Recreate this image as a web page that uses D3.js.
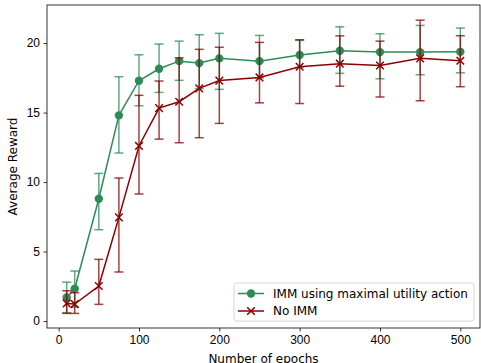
<!DOCTYPE html>
<html>
<head>
<meta charset="utf-8">
<script src="https://cdn.jsdelivr.net/npm/d3@7"></script>
<style>
body { margin: 0; background: #fff; }
svg { display: block; font-family: "DejaVu Sans", sans-serif; }
</style>
</head>
<body>
<svg id="chart" width="481" height="363"></svg>
<script>
// epochs
var epochs = [10, 20, 50, 75, 100, 125, 150, 175, 200, 250, 300, 350, 400, 450, 500];

// IMM using maximal utility action
var immMean = [1.7, 2.32, 8.8, 14.8, 17.29, 18.15, 18.7, 18.56, 18.9, 18.7, 19.14, 19.45, 19.35, 19.35, 19.37];
var immLow  = [0.6, 1.0, 6.57, 12.09, 15.49, 16.45, 17.32, 16.72, 16.67, 17.5, 18.25, 17.82, 17.43, 17.72, 17.86];
var immHigh = [2.8, 3.6, 10.62, 17.58, 19.16, 19.93, 20.14, 20.6, 20.7, 20.55, 20.2, 21.17, 20.67, 21.27, 21.08];

// No IMM
var noMean = [1.27, 1.22, 2.52, 7.46, 12.6, 15.32, 15.78, 16.74, 17.3, 17.53, 18.3, 18.52, 18.39, 18.9, 18.73];
var noLow  = [0.55, 0.55, 1.2, 3.53, 9.14, 13.09, 12.83, 13.19, 14.22, 15.7, 15.65, 16.9, 16.12, 15.85, 16.86];
var noHigh = [2.18, 2.04, 4.44, 10.29, 16.24, 17.27, 18.94, 19.55, 19.7, 20.05, 20.24, 20.52, 20.14, 21.65, 20.53];

var xTicks = [0, 100, 200, 300, 400, 500];
var yTicks = [0, 5, 10, 15, 20];

var green = "#2e8b57", red = "#8b0000";
var fontSize = "12px";

var svg = d3.select("#chart");
var plotL = 47, plotR = 480, plotT = 5, plotB = 328;

var x = d3.scaleLinear().domain([-14.5, 524.5]).range([plotL, plotR]);
var y = d3.scaleLinear().domain([-0.5, 22.74]).range([plotB, plotT]);

// axes
svg.append("g")
	.attr("transform", "translate(0," + plotB + ")")
	.call(d3.axisBottom(x).tickValues(xTicks).tickSize(3.5).tickPadding(3.5))
	.call(function(g) { g.select(".domain").remove(); })
	.selectAll("text").style("font-size", fontSize).attr("fill", "#000");

svg.append("g")
	.attr("transform", "translate(" + plotL + ",0)")
	.call(d3.axisLeft(y).tickValues(yTicks).tickSize(3.5).tickPadding(3.5))
	.call(function(g) { g.select(".domain").remove(); })
	.selectAll("text").style("font-size", fontSize).attr("fill", "#000");

svg.selectAll(".tick line").attr("stroke", "#000").attr("stroke-width", 0.8);

function series(mean, lo, hi, color, marker) {
	var g = svg.append("g");
	var pts = epochs.map(function(e, i) { return {x: e, m: mean[i], lo: lo[i], hi: hi[i]}; });

	var eb = g.selectAll("g.err").data(pts).enter().append("g")
		.attr("class", "err")
		.attr("stroke", color)
		.attr("stroke-width", 1.5)
		.attr("stroke-opacity", 0.75);
	eb.append("line")
		.attr("x1", function(d) { return x(d.x); }).attr("x2", function(d) { return x(d.x); })
		.attr("y1", function(d) { return y(d.lo); }).attr("y2", function(d) { return y(d.hi); });
	eb.append("line")
		.attr("x1", function(d) { return x(d.x) - 4.5; }).attr("x2", function(d) { return x(d.x) + 4.5; })
		.attr("y1", function(d) { return y(d.lo); }).attr("y2", function(d) { return y(d.lo); });
	eb.append("line")
		.attr("x1", function(d) { return x(d.x) - 4.5; }).attr("x2", function(d) { return x(d.x) + 4.5; })
		.attr("y1", function(d) { return y(d.hi); }).attr("y2", function(d) { return y(d.hi); });

	g.append("path")
		.datum(pts)
		.attr("fill", "none")
		.attr("stroke", color)
		.attr("stroke-width", 1.5)
		.attr("d", d3.line().x(function(d) { return x(d.x); }).y(function(d) { return y(d.m); }));

	drawMarkers(g, pts.map(function(d) { return [x(d.x), y(d.m)]; }), color, marker);
}

function drawMarkers(g, xy, color, marker) {
	if (marker == "circle") {
		g.selectAll("circle.mk").data(xy).enter().append("circle")
			.attr("class", "mk")
			.attr("cx", function(d) { return d[0]; })
			.attr("cy", function(d) { return d[1]; })
			.attr("r", 4.2)
			.attr("fill", color);
	} else {
		g.selectAll("path.mk").data(xy).enter().append("path")
			.attr("class", "mk")
			.attr("d", function(d) {
				var s = 3.8;
				return "M" + (d[0]-s) + "," + (d[1]-s) + "L" + (d[0]+s) + "," + (d[1]+s) +
					"M" + (d[0]-s) + "," + (d[1]+s) + "L" + (d[0]+s) + "," + (d[1]-s);
			})
			.attr("stroke", color)
			.attr("stroke-width", 1.5);
	}
}

series(immMean, immLow, immHigh, green, "circle");
series(noMean, noLow, noHigh, red, "x");

// frame
svg.append("rect")
	.attr("x", plotL).attr("y", plotT)
	.attr("width", plotR - plotL).attr("height", plotB - plotT)
	.attr("fill", "none").attr("stroke", "#000").attr("stroke-width", 0.8);

// labels
svg.append("text")
	.attr("x", (plotL + plotR) / 2).attr("y", 363)
	.attr("text-anchor", "middle")
	.style("font-size", fontSize)
	.text("Number of epochs");

svg.append("text")
	.attr("transform", "translate(17," + ((plotT + plotB) / 2) + ") rotate(-90)")
	.attr("text-anchor", "middle")
	.style("font-size", fontSize)
	.text("Average Reward");

// legend
var legend = svg.append("g").attr("transform", "translate(234,283)");
legend.append("rect")
	.attr("width", 240).attr("height", 38).attr("rx", 2.5)
	.attr("fill", "#fff").attr("fill-opacity", 0.8)
	.attr("stroke", "#ccc").attr("stroke-width", 0.8);

var legendItems = [
	{label: "IMM using maximal utility action", color: green, marker: "circle"},
	{label: "No IMM", color: red, marker: "x"}
];
legendItems.forEach(function(item, i) {
	var yy = 10.5 + i * 17.5;
	legend.append("line")
		.attr("x1", 4).attr("x2", 30).attr("y1", yy).attr("y2", yy)
		.attr("stroke", item.color).attr("stroke-width", 1.5);
	drawMarkers(legend, [[17, yy]], item.color, item.marker);
	legend.append("text")
		.attr("x", 39).attr("y", yy + 4.3)
		.style("font-size", fontSize)
		.text(item.label);
});
</script>
</body>
</html>
